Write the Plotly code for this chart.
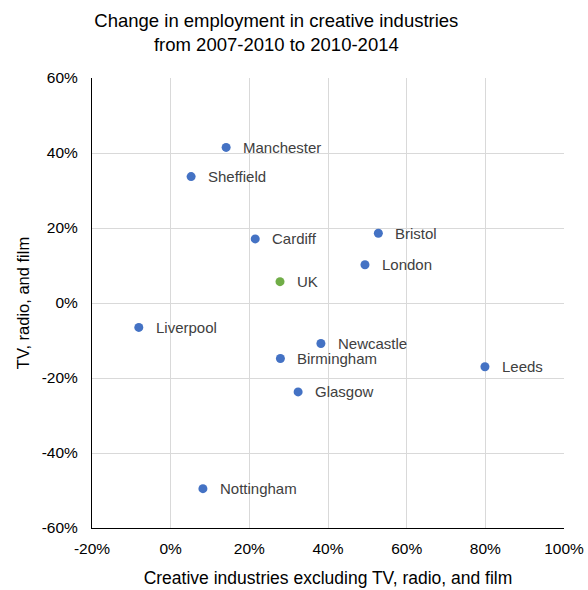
import plotly.graph_objects as go

cities = ["Manchester", "Sheffield", "Cardiff", "Bristol", "London", "Liverpool",
          "Newcastle", "Birmingham", "Leeds", "Glasgow", "Nottingham"]
creative_x = [0.141, 0.052, 0.215, 0.528, 0.494, -0.081, 0.382, 0.279, 0.799, 0.324, 0.082]
tv_y = [0.415, 0.337, 0.171, 0.186, 0.102, -0.065, -0.108, -0.148, -0.170, -0.237, -0.495]

uk_label = ["UK"]
uk_x = [0.278]
uk_y = [0.057]

x_ticks = [-0.2, 0, 0.2, 0.4, 0.6, 0.8, 1.0]
x_ticktext = ["-20%", "0%", "20%", "40%", "60%", "80%", "100%"]
y_ticks = [-0.6, -0.4, -0.2, 0, 0.2, 0.4, 0.6]
y_ticktext = ["-60%", "-40%", "-20%", "0%", "20%", "40%", "60%"]

FONT = "Liberation Sans, Arial, sans-serif"
BLUE = "#4472C4"
GREEN = "#70AD47"
LABEL_COLOR = "#404040"

fig = go.Figure()
fig.add_trace(go.Scatter(
    x=creative_x, y=tv_y, mode="markers",
    marker=dict(size=9, color=BLUE),
    cliponaxis=False, showlegend=False, hovertext=cities,
))
fig.add_trace(go.Scatter(
    x=uk_x, y=uk_y, mode="markers",
    marker=dict(size=9, color=GREEN),
    cliponaxis=False, showlegend=False, hovertext=uk_label,
))

for name, xv, yv in zip(cities + uk_label, creative_x + uk_x, tv_y + uk_y):
    fig.add_annotation(
        x=xv, y=yv, xref="x", yref="y", text=name, showarrow=False,
        xanchor="left", yanchor="middle", xshift=15, yshift=0,
        font=dict(family=FONT, size=15, color=LABEL_COLOR),
    )

fig.update_layout(
    width=588, height=590,
    margin=dict(l=92, r=24, t=78, b=62, autoexpand=False),
    paper_bgcolor="white", plot_bgcolor="white",
    font=dict(family=FONT, color="#000000"),
    title=dict(
        text="Change in employment in creative industries<br>from 2007-2010 to 2010-2014",
        x=0.47, xanchor="center", yref="container", y=0.954, yanchor="middle",
        font=dict(family=FONT, size=18.5, color="#000000"),
    ),
    xaxis=dict(
        range=[-0.2, 1.0], tickvals=x_ticks, ticktext=x_ticktext,
        showgrid=True, gridcolor="#D9D9D9", gridwidth=1,
        zeroline=False, showline=True, linecolor="#000000", linewidth=1,
        ticks="", automargin=False, ticklabelstandoff=6,
        tickfont=dict(family=FONT, size=15.5, color="#000000"),
        title=dict(text="Creative industries excluding TV, radio, and film",
                   font=dict(family=FONT, size=17.5, color="#000000"), standoff=16),
    ),
    yaxis=dict(
        range=[-0.6, 0.6], tickvals=y_ticks, ticktext=y_ticktext,
        showgrid=True, gridcolor="#D9D9D9", gridwidth=1,
        zeroline=False, showline=True, linecolor="#000000", linewidth=1,
        ticks="", automargin=False, ticklabelstandoff=10,
        tickfont=dict(family=FONT, size=15.5, color="#000000"),
        title=dict(text="TV, radio, and film",
                   font=dict(family=FONT, size=16.5, color="#000000"), standoff=7),
    ),
)

fig.write_html("out.html")
